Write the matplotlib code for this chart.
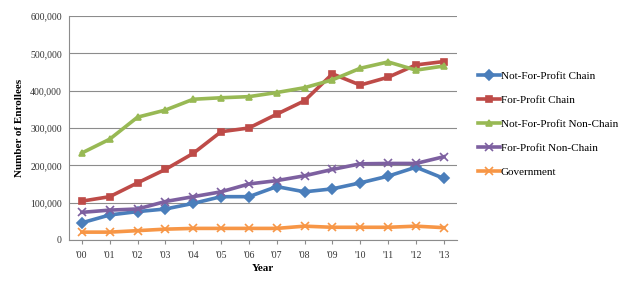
import matplotlib.pyplot as plt
import numpy as np

plt.rcParams['font.family'] = ['Liberation Serif', 'DejaVu Serif']

years = ["'00", "'01", "'02", "'03", "'04", "'05", "'06", "'07", "'08", "'09", "'10", "'11", "'12", "'13"]
nfp_chain = [46000, 67000, 76000, 83000, 98000, 116000, 116000, 143000, 129000, 137000, 153000, 171000, 195000, 165000]
fp_chain = [104000, 116000, 153000, 189000, 232000, 290000, 300000, 337000, 373000, 445000, 415000, 436000, 469000, 478000]
nfp_nonchain = [233000, 270000, 329000, 348000, 377000, 381000, 384000, 395000, 408000, 429000, 460000, 477000, 455000, 466000]
fp_nonchain = [74000, 80000, 83000, 103000, 116000, 129000, 150000, 159000, 172000, 189000, 204000, 205000, 205000, 223000]
government = [21000, 21000, 25000, 29000, 31000, 31000, 31000, 31000, 37000, 34000, 34000, 34000, 37000, 33000]

series = [
    ("Not-For-Profit Chain", nfp_chain, "#4A7EBB", "D"),
    ("For-Profit Chain", fp_chain, "#BE4B48", "s"),
    ("Not-For-Profit Non-Chain", nfp_nonchain, "#98B954", "^"),
    ("For-Profit Non-Chain", fp_nonchain, "#7D60A0", "x"),
    ("Government", government, "#F79646", "x"),
]


def main():
    fig = plt.figure(figsize=(6.25, 2.81), dpi=100)
    ax = fig.add_axes([0.110, 0.146, 0.621, 0.797])
    x = np.arange(len(years))
    for name, vals, col, mk in series:
        ax.plot(x, vals, color=col, lw=2.6, marker=mk, ms=5 if mk != "x" else 6,
                mew=1.2, mfc=col, mec=col, label=name)

    ax.set_xlim(-0.47, len(years) - 0.53)
    ax.set_ylim(0, 600000)
    ax.set_yticks(np.arange(0, 600001, 100000))
    ax.yaxis.set_major_formatter(plt.FuncFormatter(lambda v, p: f"{int(v):,}"))
    ax.set_xticks(x)
    ax.set_xticklabels(years)
    ax.grid(axis="y", color="#8c8c8c", lw=0.8)
    ax.set_axisbelow(True)
    for s in ["top", "right"]:
        ax.spines[s].set_visible(False)
    for s in ["left", "bottom"]:
        ax.spines[s].set_color("#8c8c8c")
    ax.tick_params(axis="both", labelsize=7, length=0, colors="#333333", pad=5)
    ax.tick_params(axis="x", length=3, color="#8c8c8c")
    ax.set_ylabel("Number of Enrollees", fontsize=8, fontweight="bold")
    ax.set_xlabel("Year", fontsize=8, fontweight="bold", labelpad=3)

    fig.legend(loc="upper left", bbox_to_anchor=(0.757, 0.762), frameon=False,
               fontsize=8, handlelength=2.0, handletextpad=0.1, labelspacing=1.28,
               borderaxespad=0)
    fig.savefig("out.png", dpi=100)


if __name__ == "__main__":
    main()
